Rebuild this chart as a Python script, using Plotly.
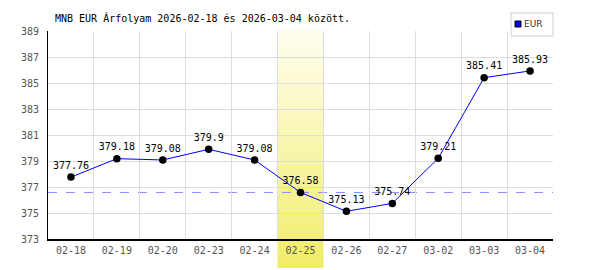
import plotly.graph_objects as go

dates = ["02-18", "02-19", "02-20", "02-23", "02-24", "02-25", "02-26", "02-27", "03-02", "03-03", "03-04"]
eur = [377.76, 379.18, 379.08, 379.9, 379.08, 376.58, 375.13, 375.74, 379.21, 385.41, 385.93]
value_labels = ["377.76", "379.18", "379.08", "379.9", "379.08", "376.58", "375.13", "375.74", "379.21", "385.41", "385.93"]
highlight_idx = 5
y_ticks = [373, 375, 377, 379, 381, 383, 385, 387, 389]
title_text = "MNB EUR Árfolyam 2026-02-18 és 2026-03-04 között."
series_name = "EUR"

W, H = 600, 270
L, R, T, B = 48, 553, 31, 239
PW, PH = R - L, B - T


def px(x):
    return (x - L) / PW


def py(y):
    return (B - y) / PH


MONO = "DejaVu Sans Mono"

fig = go.Figure()
fig.add_trace(go.Scatter(
    x=dates, y=eur, mode="lines+markers+text",
    text=value_labels, textposition="top center",
    textfont=dict(family=MONO, size=10, color="#000000"),
    line=dict(color="#0000ff", width=1),
    marker=dict(color="#000000", size=7.5),
    showlegend=False, cliponaxis=False,
))

shapes = []
# gradient highlight column
n = 40
top_c = (255, 254, 238)
bot_c = (241, 237, 105)
y_bottom = py(268)
for i in range(n):
    t = i / (n - 1)
    c = tuple(round(top_c[k] + (bot_c[k] - top_c[k]) * t) for k in range(3))
    ya = 1 - (1 - y_bottom) * i / n
    yb = 1 - (1 - y_bottom) * (i + 1) / n
    shapes.append(dict(type="rect", xref="x", yref="paper",
                       x0=highlight_idx - 0.5, x1=highlight_idx + 0.5,
                       y0=yb, y1=ya + 0.002, fillcolor="rgb(%d,%d,%d)" % c,
                       line=dict(width=0), layer="between"))
# dashed reference line at highlighted day's value
shapes.append(dict(type="line", xref="paper", yref="y", x0=0, x1=1,
                   y0=eur[highlight_idx], y1=eur[highlight_idx],
                   line=dict(color="#8c8cff", width=1, dash="dash"), layer="between"))
# legend box
shapes.append(dict(type="rect", xref="paper", yref="paper",
                   x0=px(511), x1=px(553), y0=py(36), y1=py(13),
                   line=dict(color="#cccccc", width=1), fillcolor="white", layer="above"))
shapes.append(dict(type="rect", xref="paper", yref="paper",
                   x0=px(515), x1=px(521), y0=py(27), y1=py(21),
                   line=dict(color="#000000", width=1), fillcolor="#0000ff", layer="above"))

annotations = [
    dict(text=title_text, xref="paper", yref="paper", x=px(53), y=py(18),
         xanchor="left", yanchor="middle", showarrow=False,
         font=dict(family=MONO, size=10, color="#000000")),
    dict(text=series_name, xref="paper", yref="paper", x=px(522), y=py(24),
         xanchor="left", yanchor="middle", showarrow=False,
         font=dict(family="DejaVu Sans", size=9, color="#333333")),
]

fig.update_layout(
    width=W, height=H,
    margin=dict(l=L, r=W - R, t=T, b=H - B, pad=0),
    paper_bgcolor="white", plot_bgcolor="white",
    shapes=shapes, annotations=annotations,
    showlegend=False,
    xaxis=dict(type="category", range=[-0.5, len(dates) - 0.5],
               tickson="boundaries", showgrid=True, gridcolor="#dddddd", gridwidth=1,
               showline=True, linecolor="#000000", linewidth=2,
               ticks="", ticklabelstandoff=1,
               tickfont=dict(family=MONO, size=10, color="#555555"),
               zeroline=False, fixedrange=True),
    yaxis=dict(range=[373, 389], tickvals=y_ticks, ticktext=[str(v) for v in y_ticks],
               showgrid=True, gridcolor="#dddddd", gridwidth=1,
               showline=True, linecolor="#000000", linewidth=1,
               ticks="", ticklabelstandoff=6,
               tickfont=dict(family=MONO, size=10, color="#555555"),
               zeroline=False, fixedrange=True),
)

fig.write_html("out.html")
